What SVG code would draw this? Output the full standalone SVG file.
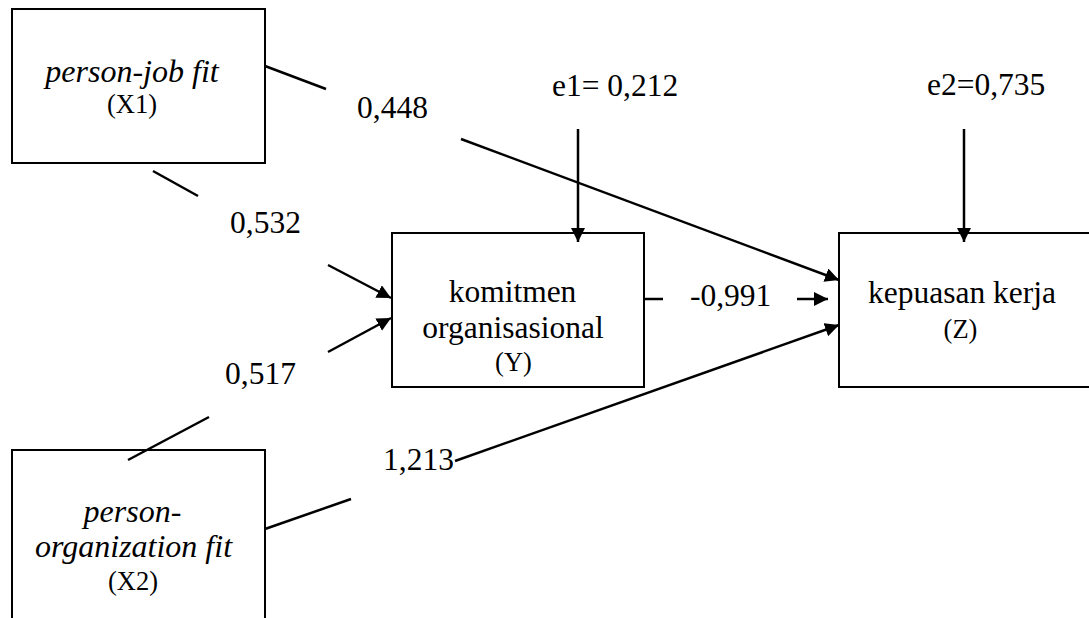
<svg xmlns="http://www.w3.org/2000/svg" width="1089" height="618" viewBox="0 0 1089 618">
<style>
.box{fill:#fff;stroke:#000;stroke-width:2}
.t{font-family:"Liberation Serif","Times New Roman",serif;font-size:31.5px;fill:#000}
.i{font-style:italic;font-size:32px}
.s{font-size:26.5px}
.m{text-anchor:middle}
.ln{stroke:#000;stroke-width:2.5;fill:none}
</style>
<defs>
<marker id="ah" markerUnits="userSpaceOnUse" markerWidth="16" markerHeight="16" refX="14" refY="7" orient="auto">
<path d="M0,0 L14,7 L0,14 z" fill="#000"/>
</marker>
</defs>
<rect width="1089" height="618" fill="#fff"/>
<g id="x1">
<rect class="box" x="12" y="9" width="253" height="154"/>
<text class="t i m" x="132" y="82">person-job fit</text>
<text class="t s m" x="132" y="113">(X1)</text>
</g>
<g id="x2">
<rect class="box" x="12" y="450" width="253" height="180"/>
<text class="t i m" x="132.5" y="522">person-</text>
<text class="t i m" x="133.5" y="557">organization fit</text>
<text class="t s m" x="133" y="590">(X2)</text>
</g>
<g id="y">
<rect class="box" x="392" y="233" width="252" height="154"/>
<text class="t m" x="512.5" y="302">komitmen</text>
<text class="t m" x="513" y="338">organisasional</text>
<text class="t s m" x="513.5" y="371">(Y)</text>
</g>
<g id="z">
<rect class="box" x="839" y="233" width="260" height="154"/>
<text class="t m" x="962" y="303">kepuasan kerja</text>
<text class="t s m" x="960.5" y="338">(Z)</text>
</g>
<g id="connectors">
<line class="ln" x1="265" y1="66" x2="326" y2="89"/>
<line class="ln" x1="461" y1="139" x2="839" y2="280" marker-end="url(#ah)"/>
<line class="ln" x1="153" y1="171" x2="198" y2="196"/>
<line class="ln" x1="328" y1="265" x2="391" y2="298" marker-end="url(#ah)"/>
<line class="ln" x1="128" y1="460" x2="209" y2="417"/>
<line class="ln" x1="328" y1="352" x2="391" y2="318" marker-end="url(#ah)"/>
<line class="ln" x1="265" y1="529" x2="351" y2="499"/>
<line class="ln" x1="455" y1="461" x2="839" y2="325" marker-end="url(#ah)"/>
<line class="ln" x1="644" y1="299" x2="663" y2="299"/>
<line class="ln" x1="797" y1="299" x2="828" y2="299" marker-end="url(#ah)"/>
<line class="ln" x1="578" y1="129" x2="578" y2="242" marker-end="url(#ah)"/>
<line class="ln" x1="964" y1="129" x2="964" y2="242" marker-end="url(#ah)"/>
</g>
<g id="labels">
<text class="t" x="357" y="117.5">0,448</text>
<text class="t" x="230" y="233">0,532</text>
<text class="t" x="225" y="384">0,517</text>
<text class="t" x="383" y="470">1,213</text>
<text class="t" x="690" y="306">-0,991</text>
<text class="t" x="552" y="96">e1= 0,212</text>
<text class="t" x="927" y="95">e2=0,735</text>
</g>
</svg>
